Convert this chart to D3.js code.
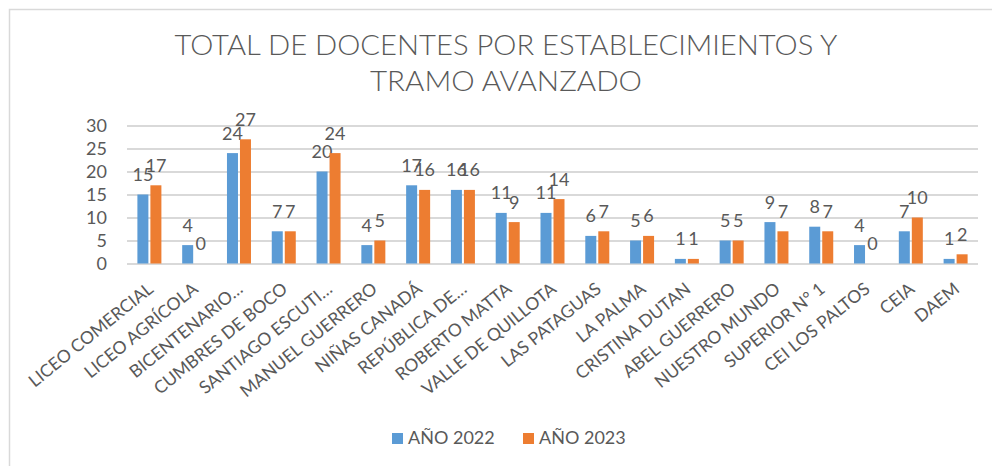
<!DOCTYPE html>
<html><head><meta charset="utf-8">
<script src="https://cdn.jsdelivr.net/npm/d3@7"></script>
<style>body{margin:0;background:#fff}text{font-family:Lato,"Open Sans",sans-serif;fill:#595959}</style>
</head><body><svg id="c" width="992" height="466"></svg>
<script>
const categories = ["LICEO COMERCIAL","LICEO AGRÍCOLA","BICENTENARIO…","CUMBRES DE BOCO","SANTIAGO ESCUTI…","MANUEL GUERRERO","NIÑAS CANADÁ","REPÚBLICA DE…","ROBERTO MATTA","VALLE DE QUILLOTA","LAS PATAGUAS","LA PALMA","CRISTINA DUTAN","ABEL GUERRERO","NUESTRO MUNDO","SUPERIOR N° 1","CEI LOS PALTOS","CEIA","DAEM"];
const values2022 = [15,4,24,7,20,4,17,16,11,11,6,5,1,5,9,8,4,7,1];
const values2023 = [17,0,27,7,24,5,16,16,9,14,7,6,1,5,7,7,0,10,2];
const seriesNames = ["AÑO 2022","AÑO 2023"];
const yTicks = [0,5,10,15,20,25,30];
const titleLines = ["TOTAL DE DOCENTES POR ESTABLECIMIENTOS Y","TRAMO AVANZADO"];
const colors = ["#5B9BD5","#ED7D31"];

const svg = d3.select("#c");
// frame (top and left edges visible)
svg.append("path").attr("d","M9.5,466V9.5H992").attr("fill","none").attr("stroke","#D9D9D9").attr("stroke-width",1.5);

const x0 = 127, x1 = 978, yTop = 125.5, yBot = 263.5;
const x = d3.scaleBand().domain(categories).range([x0,x1]);
const y = d3.scaleLinear().domain([0,30]).range([yBot,yTop]);
const barW = 11, gap = 2;

// title
const titleW = [663, 272];
svg.append("g").selectAll("text").data(titleLines).join("text")
  .attr("x",506).attr("y",(d,i)=>55+i*36).attr("text-anchor","middle")
  .attr("font-size",26.5).attr("font-weight",300)
  .attr("textLength",(d,i)=>titleW[i]).attr("lengthAdjust","spacingAndGlyphs")
  .text(d=>d);

// grid
const yAxis = d3.axisLeft(y).tickValues(yTicks).tickSize(-(x1-x0)).tickPadding(20);
const gy = svg.append("g").attr("transform",`translate(${x0},0)`).call(yAxis);
gy.select(".domain").remove();
gy.selectAll(".tick line").attr("stroke","#D9D9D9").attr("stroke-width",2);
gy.selectAll(".tick text").attr("font-size",18).attr("font-family","Lato").attr("fill","#595959").attr("dy","0.34em");

// bars
const series = [values2022, values2023];
series.forEach((vals,si)=>{
  const g = svg.append("g");
  const off = si===0 ? -(barW+gap/2) : gap/2;
  g.selectAll("rect").data(vals).join("rect")
    .attr("x",(d,i)=>x(categories[i])+x.bandwidth()/2+off)
    .attr("y",d=>y(d)).attr("width",barW).attr("height",d=>yBot-y(d))
    .attr("fill",colors[si]);
  g.selectAll("text").data(vals).join("text")
    .attr("x",(d,i)=>x(categories[i])+x.bandwidth()/2+off+barW/2)
    .attr("y",d=>y(d)-13.5).attr("text-anchor","middle").attr("font-size",18)
    .text(d=>d);
});

// category labels
svg.append("g").selectAll("text").data(categories).join("text")
  .attr("transform",d=>`translate(${x(d)+x.bandwidth()/2+5},291) rotate(-39)`)
  .attr("text-anchor","end").attr("font-size",17.5).text(d=>d);

// legend
const lx = [392, 523];
const lg = svg.append("g");
seriesNames.forEach((n,i)=>{
  lg.append("rect").attr("x",lx[i]).attr("y",433).attr("width",11).attr("height",11).attr("fill",colors[i]);
  lg.append("text").attr("x",lx[i]+16).attr("y",444).attr("font-size",18).text(n);
});
</script></body></html>
